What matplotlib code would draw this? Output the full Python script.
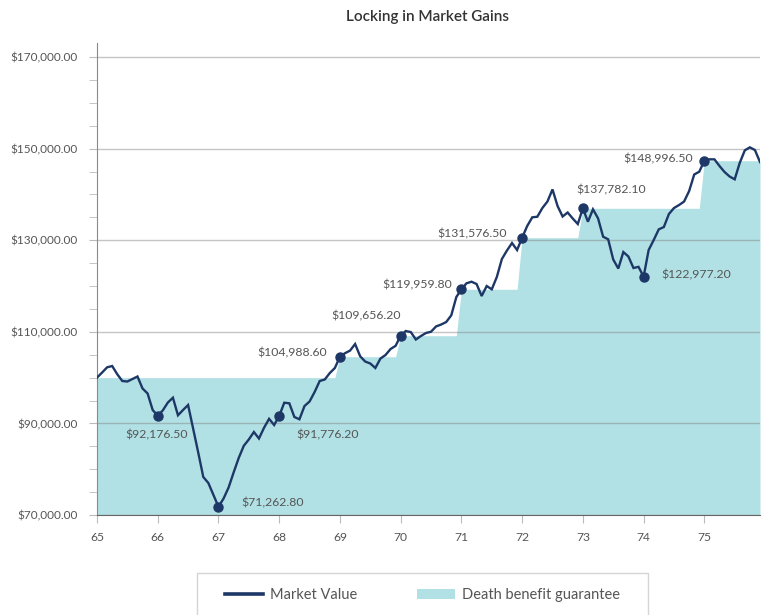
import numpy as np
import matplotlib
matplotlib.use("Agg")
import matplotlib.pyplot as plt
from matplotlib.lines import Line2D
from matplotlib.patches import Patch, Rectangle
from matplotlib.ticker import MultipleLocator, FuncFormatter

plt.rcParams['font.family'] = ['Lato', 'DejaVu Sans']

# monthly market value, age 65 to ~75.9 (12 points per year)
market_value = [
    100000, 101100, 102250, 102530, 100740, 99260, 99150, 99700, 100240, 97620, 96530, 92930,
    91680, 92840, 94560, 95610, 91770, 92930, 94020, 88820, 83650, 78300, 76990, 74370,
    71800, 73580, 76000, 79300, 82450, 85100, 86500, 88120, 86700, 89040, 91000, 89650,
    91620, 94520, 94390, 91400, 90900, 93800, 94780, 96860, 99260, 99590, 101000, 102100,
    104560, 105330, 105900, 107340, 104650, 103500, 103080, 102100, 104150, 104930, 106240, 106940,
    109150, 110170, 109950, 108320, 109080, 109740, 110020, 111180, 111590, 112140, 113600, 117600,
    119280, 120590, 120940, 120440, 117820, 120000, 119280, 121970, 125900, 127750, 129390, 127860,
    130550, 133100, 135000, 135130, 137030, 138450, 141100, 137470, 135180, 136050, 134740, 133540,
    136970, 134040, 136750, 134780, 130770, 130200, 125790, 123820, 127420, 126440, 123930, 124190,
    122030, 127860, 130050, 132380, 132880, 135720, 137030, 137680, 138450, 140740, 144350, 144960,
    147360, 147660, 147660, 146200, 144890, 143910, 143300, 146900, 149630, 150280, 149690, 147070,
]
start_age = 65
anniversary_labels = ["$92,176.50", "$71,262.80", "$91,776.20", "$104,988.60", "$109,656.20",
                      "$119,959.80", "$131,576.50", "$137,782.10", "$122,977.20", "$148,996.50"]

mv = np.array(market_value, dtype=float)
ages = start_age + np.arange(len(mv)) / 12.0

# guarantee: steps up on each anniversary to the market value if higher
guarantee = np.zeros_like(mv)
level = mv[0]
for k in range(len(mv)):
    if k % 12 == 0:
        level = max(level, mv[k])
    guarantee[k] = level

ann_idx = np.arange(12, len(mv), 12)

navy = '#1d3866'
teal = '#b2e1e5'
grey_txt = '#555555'

fig = plt.figure(figsize=(7.7, 6.15), dpi=100)
ax = fig.add_axes([97/770, 1-515/615, 663/770, (515-43.3)/615])

ax.fill_between(ages, 70000, guarantee, color=teal, lw=0, zorder=1)
ax.plot(ages, mv, color=navy, lw=1.7, zorder=3, solid_joinstyle='miter')
ax.plot(ages[ann_idx], mv[ann_idx], 'o', color=navy, ms=6.5, zorder=4)

offsets = [(-1, -19), (54, 4), (48, -19), (-48, 4), (-35, 20),
           (-44, 4), (-50, 4), (28, 18), (53, 2), (-46, 2)]
for i, txt, off in zip(ann_idx, anniversary_labels, offsets):
    ax.annotate(txt, (ages[i], mv[i]), xytext=off, textcoords='offset pixels',
                ha='center', va='center', fontsize=8.8, color=grey_txt, zorder=5)

ax.set_xlim(start_age, ages[-1])
ax.set_ylim(70000, 173000)
ax.xaxis.set_major_locator(MultipleLocator(1))
ax.yaxis.set_major_locator(MultipleLocator(20000, offset=10000))
ax.yaxis.set_minor_locator(MultipleLocator(5000))
ax.yaxis.set_major_formatter(FuncFormatter(lambda v, p: f"${v:,.2f}"))

ax.grid(axis='y', which='major', color='#808080', alpha=0.45, lw=1)
for s in ['top', 'right']:
    ax.spines[s].set_visible(False)
ax.spines['left'].set_color('#8a8a8a')
ax.spines['bottom'].set_color('#666666')
ax.tick_params(axis='y', which='both', length=6, color='#bbbbbb', pad=8,
               labelsize=8.5, labelcolor=grey_txt)
ax.tick_params(axis='x', length=6, color='#bbbbbb', pad=6, labelsize=8.7, labelcolor=grey_txt)

fig.text(428/770, 1-17/615, "Locking in Market Gains", ha='center', va='center',
         fontsize=11, color='#333333', fontweight='semibold')

handles = [Line2D([], [], color=navy, lw=2.6),
           Patch(facecolor=teal, edgecolor='none')]
fig.legend(handles, ["Market Value", "Death benefit guarantee"], ncol=2, frameon=False,
           loc='center left', bbox_to_anchor=(225/770, 1-595/615), borderpad=0,
           borderaxespad=0, handlelength=2.6, handletextpad=0.5, columnspacing=4.1,
           fontsize=10.5, labelcolor=grey_txt)
fig.add_artist(Rectangle((197/770, -0.05), 451/770, 0.05 + 1 - 573/615,
                         transform=fig.transFigure, fill=False, edgecolor='#d5d5d5', lw=1))

fig.savefig("out.png", dpi=100)
